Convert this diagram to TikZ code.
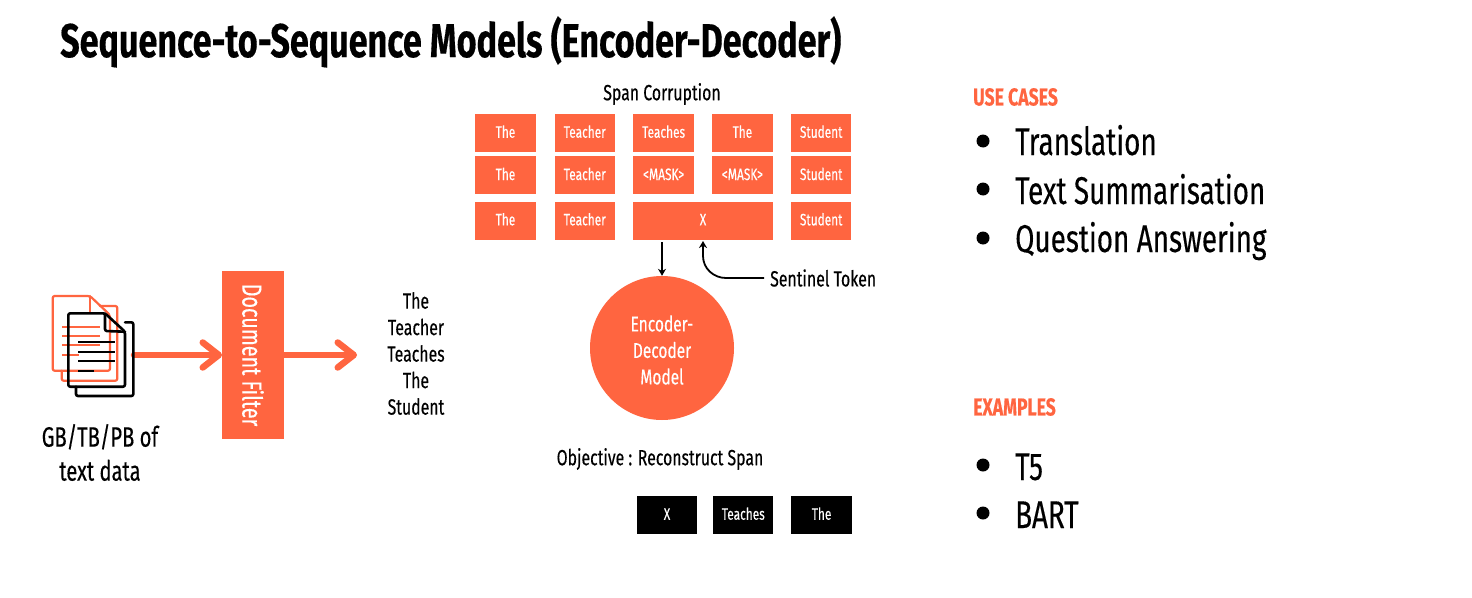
\documentclass[tikz,border=0pt]{standalone}
\usepackage{fontspec}
\usepackage{xcolor}
\setmainfont[FakeStretch=0.72,FakeBold=0.3]{Fira Sans}
\usetikzlibrary{arrows.meta, positioning}
\definecolor{coral}{HTML}{FF6540}

\tikzset{
  word/.style={fill=coral, text=white, minimum width=60.3pt, minimum height=38pt, inner sep=0pt, outer sep=0pt, text height=12pt, text depth=2.5pt, font=\fontsize{16.5}{20}\selectfont},
  blackword/.style={word, fill=black},
  caption/.style={font=\fontsize{22}{26.5}\selectfont, align=center},
  heading/.style={text=coral, font=\fontsize{24.5}{28}\selectfont\bfseries, anchor=west, inner sep=0pt},
  listitem/.style={font=\fontsize{38.7}{42}\selectfont, anchor=west, inner sep=0pt, text height=29pt, text depth=1pt},
  dot/.style={circle, fill=black, minimum size=13pt, inner sep=0pt},
  fatarrow/.style={coral, line width=6.5pt, line cap=round, -{Straight Barb[length=16pt, width=25pt, round]}},
  thinarrow/.style={black, line width=1.8pt, -{Stealth[length=7pt, width=8pt]}},
  pageline/.style={line width=2.2pt, line cap=round, line join=round, rounded corners=2pt}
}

\begin{document}
\begin{tikzpicture}[x=1pt, y=-1pt]
    \useasboundingbox (0,0) rectangle (1472,597);
    \fill[white] (0,0) rectangle (1472,597);

    % Title
    \node[anchor=west, inner sep=0pt, font=\fontsize{47.4}{50}\selectfont\bfseries] (title) at (60,42) {Sequence-to-Sequence Models (Encoder-Decoder)};

    % Corrupted span rows
    \node[caption] (span) at (662,94) {Span Corruption};
    \node[word] (the1) at (505.5,133) {The};
    \node[word, right=19pt of the1] (teacher1) {Teacher};
    \node[word, right=18.5pt of teacher1] (teaches1) {Teaches};
    \node[word, right=18.5pt of teaches1] (theb1) {The};
    \node[word, right=18.5pt of theb1] (student1) {Student};

    \node[word, below=4.3pt of the1] (the2) {The};
    \node[word, right=19pt of the2] (teacher2) {Teacher};
    \node[word, right=18.5pt of teacher2] (mask1) {<MASK>};
    \node[word, right=18.5pt of mask1] (mask2) {<MASK>};
    \node[word, right=18.5pt of mask2] (student2) {Student};

    \node[word, below=7.3pt of the2] (the3) {The};
    \node[word, right=19pt of the3] (teacher3) {Teacher};
    \node[word, right=18.5pt of teacher3, minimum width=139.1pt] (sentinel) {X};
    \node[word, right=18.5pt of sentinel] (student3) {Student};

    % Model
    \node[circle, fill=coral, minimum size=144pt, inner sep=0pt] (model) at (662,348) {};
    \node[text=white, align=center, font=\fontsize{21.5}{26.5}\selectfont] (modeltext) at (662,350) {Encoder-\\Decoder\\Model};
    \node[caption, anchor=west, inner sep=0pt] (token) at (770,278) {Sentinel Token};
    \coordinate (down) at (662,242);
    \coordinate (up) at (703,241);
    \draw[thinarrow] (down) -- (model.north);
    \draw[thinarrow] (token.west) ++(-6,0) -- (726,278) to[out=180, in=270] (703,256) -- (up);

    \node[caption] (objective) at (660,459) {Objective : Reconstruct Span};
    \node[blackword] (x) at (667,515) {X};
    \node[blackword, right=16pt of x] (teaches) {Teaches};
    \node[blackword, right=18pt of teaches] (thetarget) {The};

    % Left side
    \coordinate (docs) at (134,355);
    \node[fill=coral, text=white, minimum width=168pt, minimum height=62pt, inner sep=0pt, outer sep=0pt, rotate=-90, font=\fontsize{27.5}{30}\selectfont] (filter) at (253,355) {Document Filter};
    \draw[fatarrow] (docs) -- (filter.south);
    \coordinate (out) at (357,355);
    \draw[fatarrow] (filter.north) -- (out);

    % Document icon
    \draw[pageline, coral] (52.7,296) -- (90,296) -- (110,315) -- (110,370.7) -- (52.7,370.7) -- cycle;
    \draw[pageline, coral] (90,296) -- (90,312);
    \draw[pageline, coral] (100,306) -- (117.3,306) -- (117.3,380.7) -- (61.7,380.7) -- (61.7,370.7);
    \foreach \y/\xend in {326.7/100, 336/100, 345.3/100, 354.7/79.3}
      \draw[pageline, coral, line cap=butt] (62.3,\y) -- (\xend,\y);
    \draw[pageline, line width=2.6pt] (68.3,313.3) -- (105,313.3) -- (125,331.7) -- (125,386.7) -- (68.3,386.7) -- cycle;
    \draw[pageline, line width=2.6pt] (105,313.3) -- (105,331) -- (125,331.7);
    \draw[pageline, line width=2.6pt] (125,322.3) -- (133.3,322.3) -- (133.3,396) -- (76,396) -- (76,386.7);
    \foreach \y/\xend in {342.3/115, 352/115, 361.3/115, 371/94.3}
      \draw[pageline, line cap=butt] (78.3,\y) -- (\xend,\y);

    \node[font=\fontsize{28}{34}\selectfont, align=center] (volume) at (100,452.5) {GB/TB/PB of\\text data};
    \node[caption] (sentence) at (416,353.5) {The\\Teacher\\Teaches\\The\\Student};

    % Use cases
    \node[heading] (usecases) at (973,97) {USE CASES};
    \node[dot] (dot1) at (983,141) {};
    \node[dot] (dot2) at (983,189) {};
    \node[dot] (dot3) at (983,238) {};
    \node[listitem] (case1) at (1015,141) {Translation};
    \node[listitem] (case2) at (1015,190) {Text Summarisation};
    \node[listitem] (case3) at (1015,238) {Question Answering};

    % Examples
    \node[heading] (examples) at (973,407) {EXAMPLES};
    \node[dot] (dot4) at (983,465) {};
    \node[dot] (dot5) at (983,513) {};
    \node[listitem] (t5) at (1015,466) {T5};
    \node[listitem] (bart) at (1015,514) {BART};
\end{tikzpicture}
\end{document}
